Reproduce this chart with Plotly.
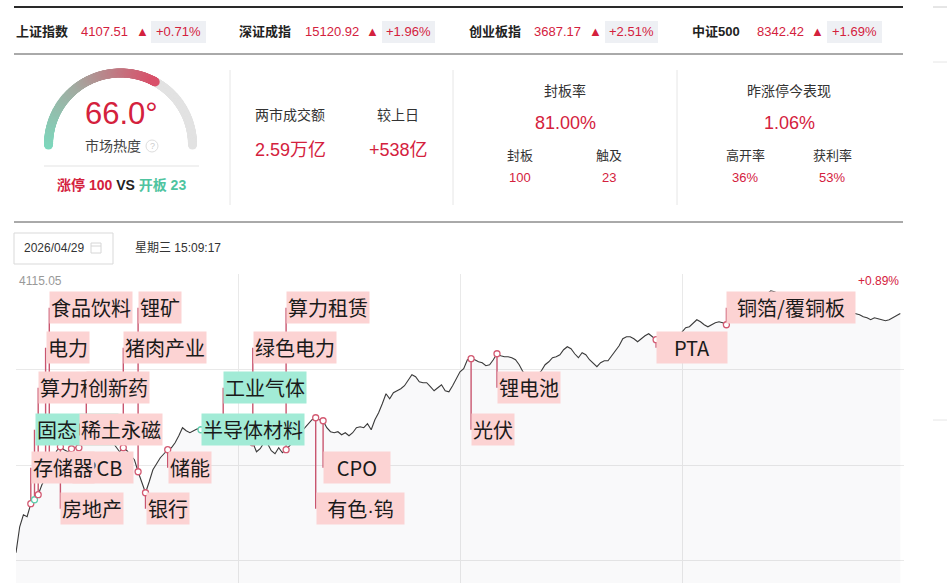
import math
import plotly.graph_objects as go

W, H = 947, 583

# ---------------- data ----------------
index_names = ["上证指数", "深证成指", "创业板指", "中证500"]
index_values = ["4107.51", "15120.92", "3687.17", "8342.42"]
index_changes = ["+0.71%", "+1.96%", "+2.51%", "+1.69%"]

heat_value = 66.0
limit_up_count = 100
opened_count = 23
turnover = "2.59万亿"
turnover_change = "+538亿"
seal_rate = "81.00%"
seal_count = 100
touch_count = 23
yday_perf = "1.06%"
high_open_rate = "36%"
profit_rate = "53%"
date_text = "2026/04/29"
time_text = "星期三 15:09:17"

prev_close = 4078.55
axis_top = 4115.05
axis_top_pct = "+0.89%"

minutes = list(range(240))
prices = [
    4061.78, 4066.75, 4069.04, 4068.66, 4071.15, 4071.91, 4072.87, 4074.78, 4076.12, 4076.88,
    4079.56, 4081.28, 4082.04, 4081.47, 4081.08, 4081.66, 4081.85, 4081.85, 4083.00, 4083.76,
    4083.38, 4083.95, 4083.76, 4083.57, 4083.95, 4083.19, 4083.00, 4082.04, 4081.08, 4081.85,
    4081.28, 4080.32, 4079.56, 4077.26, 4075.35, 4073.25, 4075.35, 4077.64, 4078.79, 4079.94,
    4080.70, 4081.47, 4081.85, 4082.80, 4084.14, 4085.67, 4085.10, 4084.72, 4085.10, 4085.48,
    4085.29, 4084.72, 4085.10, 4084.33, 4084.91, 4084.52, 4084.72, 4085.10, 4084.14, 4084.72,
    4083.76, 4084.14, 4083.38, 4083.00, 4082.80, 4081.08, 4081.66, 4082.80, 4082.61, 4081.28,
    4080.70, 4081.85, 4080.89, 4081.47, 4082.23, 4083.19, 4083.95, 4084.72, 4085.48, 4086.44,
    4087.20, 4087.58, 4087.20, 4087.01, 4085.67, 4084.91, 4084.72, 4084.91, 4084.33, 4084.72,
    4084.14, 4084.72, 4085.67, 4085.86, 4085.67, 4086.44, 4085.29, 4087.20, 4088.54, 4090.26,
    4092.17, 4091.21, 4092.36, 4092.74, 4093.12, 4093.70, 4094.84, 4095.80, 4095.42, 4094.46,
    4094.27, 4094.27, 4093.51, 4092.74, 4093.31, 4093.89, 4092.74, 4092.55, 4093.70, 4095.03,
    4096.37, 4096.95, 4098.67, 4098.86, 4098.67, 4098.28, 4098.09, 4097.52, 4097.71, 4098.67,
    4099.81, 4099.43, 4099.24, 4099.24, 4099.05, 4098.67, 4097.71, 4096.37, 4095.80, 4095.61,
    4095.61, 4095.80, 4096.56, 4097.71, 4098.28, 4099.05, 4099.24, 4099.62, 4100.58, 4101.15,
    4100.77, 4099.81, 4099.05, 4100.00, 4099.62, 4098.67, 4097.90, 4097.33, 4098.09, 4098.47,
    4098.47, 4099.43, 4100.58, 4101.34, 4102.68, 4103.06, 4103.06, 4102.68, 4102.11, 4102.68,
    4103.25, 4103.63, 4103.06, 4102.49, 4103.44, 4103.83, 4102.87, 4102.30, 4102.30, 4103.06,
    4103.83, 4104.78, 4104.97, 4105.55, 4106.31, 4105.93, 4105.35, 4104.97, 4105.35, 4105.74,
    4105.93, 4105.74, 4105.35, 4106.50, 4107.46, 4108.03, 4108.41, 4108.79, 4109.18, 4109.37,
    4109.75, 4110.13, 4110.70, 4111.28, 4111.85, 4111.66, 4111.28, 4110.51, 4109.94, 4109.56,
    4109.18, 4109.37, 4109.18, 4108.79, 4108.98, 4108.79, 4108.60, 4108.41, 4108.60, 4108.41,
    4108.22, 4108.22, 4108.03, 4108.22, 4108.03, 4107.84, 4107.65, 4107.46, 4107.27, 4106.88,
    4106.69, 4106.31, 4106.69, 4106.50, 4106.31, 4106.12, 4106.31, 4106.69, 4107.07, 4107.51,
]

event_names = ["存储器", "固态电池", "算力租赁", "电力", "食品饮料", "房地产", "PCB", "稀土永磁",
               "创新药", "猪肉产业", "锂矿", "银行", "储能", "半导体材料", "工业气体", "绿色电力",
               "算力租赁", "有色·钨", "CPO", "光伏", "锂电池", "PTA", "铜箔/覆铜板"]
event_minutes = [4, 5, 6, 8, 9, 12, 15, 17, 19, 29, 33, 35, 41, 50, 56, 64, 73, 81, 83, 123, 130, 173, 192]
event_theme = ["hot", "cool", "hot", "hot", "hot", "hot", "hot", "hot", "hot", "hot", "hot", "hot",
               "hot", "cool", "cool", "hot", "hot", "hot", "hot", "hot", "hot", "hot", "hot"]

# ---------------- layout / style config ----------------
FONT = "Arial, 'Noto Sans CJK SC', sans-serif"
CJK = "'Noto Sans CJK SC', sans-serif"
RED = "#d4213d"
GREEN = "#4fc4a0"
DARK = "#333333"

row_levels = {1: 4108.60, 2: 4100.96, 3: 4093.31, 4: 4085.29, 5: 4078.03, 6: 4070.19}
event_rows = [5, 4, 3, 2, 1, 6, 5, 4, 3, 2, 1, 6, 5, 4, 3, 2, 1, 6, 5, 4, 3, 2, 1]
label_width = {"PCB": 58, "有色·钨": 85, "CPO": 64, "PTA": 68, "铜箔/覆铜板": 126}
draw_order = [6, 0, 1, 7, 2, 8, 3, 4, 5, 9, 10, 11, 12, 13, 14, 15, 16, 17, 18, 19, 20, 21, 22]
theme_fill = {"hot": "#fcd3d3", "cool": "#a2ebd6"}
theme_mark = {"hot": "#d35a72", "cool": "#5fcfae"}


def px(x):
    return x / W


def py(y):
    return 1 - y / H


annotations = []
shapes = []


def txt(x, y, s, size=13, color=DARK, xanchor="center", family=FONT):
    annotations.append(dict(x=px(x), y=py(y), xref="paper", yref="paper", text=s,
                            showarrow=False, xanchor=xanchor, yanchor="middle",
                            font=dict(size=size, color=color, family=family)))


def hline(x0, x1, y, color, width=1):
    shapes.append(dict(type="line", xref="paper", yref="paper", x0=px(x0), x1=px(x1),
                       y0=py(y), y1=py(y), line=dict(color=color, width=width)))


def vline(x, y0, y1, color, width=1):
    shapes.append(dict(type="line", xref="paper", yref="paper", x0=px(x), x1=px(x),
                       y0=py(y0), y1=py(y1), line=dict(color=color, width=width)))


def rect(x0, y0, x1, y1, fill=None, line=None):
    shapes.append(dict(type="rect", xref="paper", yref="paper", x0=px(x0), x1=px(x1),
                       y0=py(y1), y1=py(y0), fillcolor=fill or "rgba(0,0,0,0)",
                       line=dict(color=line or "rgba(0,0,0,0)", width=1), layer="below"))


# ---- top index bar ----
hline(14, 903, 7, "#2a2a2a", 2)
hline(14, 903, 54, "#555555", 1)
hline(933, 947, 7, "#cccccc", 1)
name_x = [14, 237, 467, 690]
value_x = [79, 303, 532, 755]
tri_x = [134, 364, 587, 809]
box_x = [(151, 206), (382, 435), (605, 658), (827, 882)]
for i in range(len(index_names)):
    txt(name_x[i], 31, "<b>" + index_names[i] + "</b>", 13, "#222", "left")
    txt(value_x[i], 31, index_values[i], 13, RED, "left")
    txt(tri_x[i], 31, "▲", 13, RED, "left")
    rect(box_x[i][0], 21, box_x[i][1], 43, fill="#eef0f4")
    txt((box_x[i][0] + box_x[i][1]) / 2, 31, index_changes[i], 13, RED)

# ---- stats panel ----
for x in (230, 453, 677):
    vline(x, 70, 205, "#e6e6e6")
hline(933, 947, 62, "#e6e6e6")
hline(933, 947, 420, "#e6e6e6")
hline(14, 903, 222, "#555555", 1)

txt(121, 114, f"{heat_value:.1f}°", 31, RED)
txt(113, 146, "市场热度", 14, "#444")
shapes.append(dict(type="circle", xref="paper", yref="paper", x0=px(146), x1=px(158),
                   y0=py(152), y1=py(140), line=dict(color="#dddddd", width=1)))
txt(152, 146, "?", 9, "#cccccc")
hline(44, 199, 166, "#e3e3e3")
txt(121, 185, f"<b><span style='color:{RED}'>涨停 {limit_up_count}</span> "
              f"<span style='color:#222'>VS</span> "
              f"<span style='color:{GREEN}'>开板 {opened_count}</span></b>", 14, DARK)

txt(290, 115, "两市成交额", 14, "#333")
txt(290, 150, turnover, 18, RED)
txt(398, 115, "较上日", 14, "#333")
txt(398, 150, turnover_change, 18, RED)

txt(565, 91, "封板率", 14, "#333")
txt(565, 123, seal_rate, 18, RED)
txt(520, 155, "封板", 13, "#333")
txt(609, 155, "触及", 13, "#333")
txt(520, 177, str(seal_count), 13, RED)
txt(609, 177, str(touch_count), 13, RED)

txt(789, 91, "昨涨停今表现", 14, "#333")
txt(789, 123, yday_perf, 18, RED)
txt(745, 155, "高开率", 13, "#333")
txt(832, 155, "获利率", 13, "#333")
txt(745, 177, high_open_rate, 13, RED)
txt(832, 177, profit_rate, 13, RED)

# ---- date row ----
rect(14, 233, 113, 264, line="#d9d9d9")
txt(22, 248, date_text, 12, "#333", "left")
rect(91, 243, 101, 253, line="#d6d6d6")
hline(91, 101, 246, "#d6d6d6")
txt(133, 248, time_text, 12, "#333", "left")

# ---- chart corner labels ----
txt(17, 281, f"{axis_top:.2f}", 12, "#999999", "left")
txt(901, 281, axis_top_pct, 12, RED, "right")

# ---------------- figure ----------------
fig = go.Figure()

fig.add_trace(go.Scatter(x=minutes, y=prices, mode="lines",
                         line=dict(color="#3a3a3a", width=1.1),
                         fill="tozeroy", fillcolor="rgba(110,110,130,0.04)",
                         hoverinfo="skip", showlegend=False))

sx, sy = [], []
for i, t in enumerate(event_minutes):
    sx += [t, t, None]
    sy += [prices[t], row_levels[event_rows[i]], None]
fig.add_trace(go.Scatter(x=sx, y=sy, mode="lines", line=dict(color="#c9566f", width=1.4),
                         hoverinfo="skip", showlegend=False))

fig.add_trace(go.Scatter(
    x=event_minutes, y=[prices[t] for t in event_minutes], mode="markers",
    marker=dict(size=6, color="white",
                line=dict(color=[theme_mark[k] for k in event_theme], width=1.3)),
    hoverinfo="skip", showlegend=False))

for i in draw_order:
    name = event_names[i]
    shown = name.replace("·", "<span style='font-family:Arial'>·</span>")
    a = dict(x=event_minutes[i], y=row_levels[event_rows[i]], xref="x", yref="y",
             text=shown, showarrow=False, xanchor="left", yanchor="middle",
             bgcolor=theme_fill[event_theme[i]], borderpad=1,
             font=dict(size=20, color="#1a1a1a", family=CJK))
    if name in label_width:
        a["width"] = label_width[name]
        a["align"] = "center"
    annotations.append(a)

# gauge (own axes, 1 unit = 1 px)
frac = heat_value / 100.0
n_col = 240
col_ang = [180 - 180 * frac * k / (n_col - 1) for k in range(n_col)]
grey_ang = [180 * (1 - frac) * (1 - k / 120) for k in range(121)]
R = 72
fig.add_trace(go.Scatter(
    x=[R * math.cos(math.radians(a)) for a in grey_ang],
    y=[R * math.sin(math.radians(a)) for a in grey_ang],
    mode="markers", marker=dict(size=9, color="#e2e2e2"),
    xaxis="x2", yaxis="y2", hoverinfo="skip", showlegend=False))
fig.add_trace(go.Scatter(
    x=[R * math.cos(math.radians(a)) for a in col_ang],
    y=[R * math.sin(math.radians(a)) for a in col_ang],
    mode="markers",
    marker=dict(size=9, color=list(range(n_col)),
                colorscale=[[0, "#7dd8bd"], [0.45, "#a3aca2"], [1, "#d9506a"]],
                showscale=False),
    xaxis="x2", yaxis="y2", hoverinfo="skip", showlegend=False))

tick_step = (axis_top - prev_close) / 2
range_bottom = prev_close - (axis_top - prev_close) * 118 / 191

fig.update_layout(
    width=W, height=H,
    margin=dict(l=0, r=0, t=0, b=0),
    paper_bgcolor="white", plot_bgcolor="white",
    xaxis=dict(domain=[px(16), px(904)], range=[0, 240], tickvals=[60, 120, 180],
               showgrid=True, gridcolor="#e9e9e9", gridwidth=1, zeroline=False,
               showticklabels=False, ticks="", showline=False, fixedrange=True),
    yaxis=dict(domain=[0, 1 - 274 / H], range=[range_bottom, axis_top],
               tickvals=[prev_close - tick_step, prev_close, prev_close + tick_step, axis_top],
               showgrid=True, gridcolor="#e9e9e9", gridwidth=1, zeroline=False,
               showticklabels=False, ticks="", showline=False, fixedrange=True),
    xaxis2=dict(domain=[px(40), px(200)], range=[40 - 120.5, 200 - 120.5], visible=False,
                fixedrange=True),
    yaxis2=dict(domain=[py(160), py(60)], range=[145 - 160, 145 - 60], visible=False,
                fixedrange=True),
    annotations=annotations,
    shapes=shapes,
    font=dict(family=FONT),
)

fig.write_html("out.html", config={"displayModeBar": False},
               post_script="document.body.style.margin='0';document.body.style.overflow='hidden';")
